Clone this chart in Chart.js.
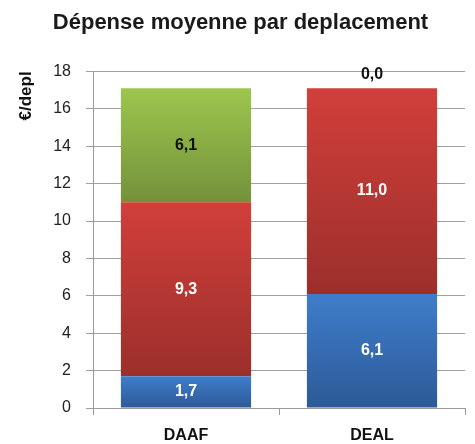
<!DOCTYPE html>
<html><head><meta charset="utf-8">
<script src="https://cdn.jsdelivr.net/npm/chart.js@4"></script>
<style>html,body{margin:0;padding:0;background:#fff}#wrap{width:475px;height:444px}</style>
</head><body><div id="wrap"><canvas id="c" width="475" height="444"></canvas></div>
<script>
const categories = ["DAAF", "DEAL"];
const blueValues = [1.7, 6.1];
const redValues = [9.3, 11.0];
const greenValues = [6.1, 0.0];
const yTicks = [0, 2, 4, 6, 8, 10, 12, 14, 16, 18];
const titleText = "Dépense moyenne par deplacement";
const yTitle = "€/depl";

const FONT = "'Liberation Sans', Arial, sans-serif";
const series = [
  {label: "s1", data: blueValues, top: "#3F7DCB", bot: "#2D5A97", text: "#ffffff"},
  {label: "s2", data: redValues, top: "#D13F3B", bot: "#9C2F2B", text: "#ffffff"},
  {label: "s3", data: greenValues, top: "#9DC64E", bot: "#74913A", text: "#111111"}
];

function gradFor(ctx, s) {
  const chart = ctx.chart;
  const y = chart.scales && chart.scales.y;
  const ca = chart.chartArea;
  if (!y || !ca || ctx.dataIndex === undefined) return s.top;
  const di = ctx.datasetIndex, i = ctx.dataIndex;
  let start = 0;
  for (let k = 0; k < di; k++) start += series[k].data[i];
  const end = start + series[di].data[i];
  const yTop = y.getPixelForValue(end), yBot = y.getPixelForValue(start);
  if (!isFinite(yTop) || !isFinite(yBot) || yTop === yBot) return s.top;
  const g = chart.ctx.createLinearGradient(0, yTop, 0, yBot);
  g.addColorStop(0, s.top);
  g.addColorStop(1, s.bot);
  return g;
}

const labelPlugin = {
  id: "labels",
  afterDatasetsDraw(chart) {
    const c = chart.ctx;
    c.save();
    c.font = "bold 16px " + FONT;
    c.textAlign = "center";
    c.textBaseline = "middle";
    chart.data.datasets.forEach((ds, di) => {
      const meta = chart.getDatasetMeta(di);
      meta.data.forEach((el, i) => {
        const v = ds.data[i];
        const txt = v.toFixed(1).replace(".", ",");
        let yy, col = series[di].text;
        if (v === 0) { yy = el.y - 14; col = "#111111"; }
        else yy = (el.y + el.base) / 2;
        c.fillStyle = col;
        c.fillText(txt, el.x, yy);
      });
    });
    c.restore();
  }
};

new Chart(document.getElementById("c"), {
  type: "bar",
  data: {
    labels: categories,
    datasets: series.map(s => ({
      label: s.label,
      data: s.data,
      backgroundColor: ctx => gradFor(ctx, s),
      borderWidth: 0,
      barPercentage: 0.7,
      categoryPercentage: 1.0
    }))
  },
  options: {
    responsive: false,
    animation: false,
    layout: {padding: {left: 16, right: 10, top: 0, bottom: 0}},
    plugins: {
      legend: {display: false},
      tooltip: {enabled: false},
      title: {display: true, text: titleText, color: "#1a1a1a",
        font: {family: FONT, size: 22, weight: "bold"}, padding: {top: 10, bottom: 35}}
    },
    scales: {
      x: {
        stacked: true,
        afterFit: ax => { ax.height = 36; },
        grid: {display: true, drawOnChartArea: false, drawTicks: true, tickLength: 7, color: "#9a9a9a", offset: true},
        border: {display: true, color: "#9a9a9a", width: 1},
        ticks: {color: "#111", font: {family: FONT, size: 16, weight: "bold"}, padding: 11}
      },
      y: {
        stacked: true,
        min: 0, max: 18,
        afterBuildTicks: ax => { ax.ticks = yTicks.map(v => ({value: v})); },
        afterFit: ax => { ax.width = 77; },
        grid: {color: "#a0a0a0", tickLength: 7, lineWidth: 1},
        border: {display: true, color: "#9a9a9a"},
        ticks: {color: "#222", font: {family: FONT, size: 16}, padding: 15},
        title: {display: true, text: yTitle, align: "end", color: "#111", font: {family: FONT, size: 17, weight: "bold"}, padding: {top: 0, bottom: 0}}
      }
    }
  },
  plugins: [labelPlugin]
});
</script></body></html>
